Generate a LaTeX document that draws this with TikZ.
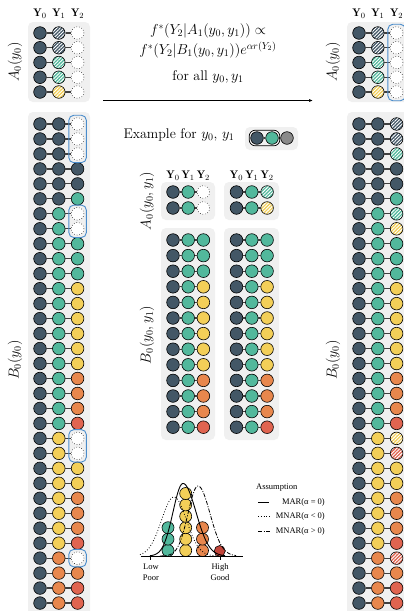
\documentclass[tikz,border=0pt]{standalone}
\usepackage{fontspec}
\newfontfamily\legfont{Liberation Serif}
\usetikzlibrary{patterns.meta,fit,arrows.meta}
\definecolor{cdark}{HTML}{435766}
\definecolor{cteal}{HTML}{52B89C}
\definecolor{cyel}{HTML}{F3CF58}
\definecolor{corg}{HTML}{E8874D}
\definecolor{cred}{HTML}{E06450}
\definecolor{cdred}{HTML}{C2453A}
\definecolor{cgex}{HTML}{8A8A8A}
\definecolor{cbox}{HTML}{F0F0F0}
\definecolor{cblue}{HTML}{4A8CCB}
\newcommand{\fmain}{\fontsize{14}{17}\selectfont}
\newcommand{\fhead}{\fontsize{11}{13}\selectfont}
\newcommand{\fleg}{\legfont\fontsize{8.5}{10}\selectfont}
\newcommand{\brow}[7]{%
  \node[#5] (#1a) at ({#2},{#4}) {};
  \node[#6] (#1b) at ({#2+#3},{#4}) {};
  \node[#7] (#1c) at ({#2+2*#3},{#4}) {};
  \draw[link] (#1a) -- (#1b) (#1b) -- (#1c);
}
\tikzset{
  ball/.style={circle, draw=black, line width=0.6pt, minimum size=12.6pt, inner sep=0pt},
  dk/.style={ball, fill=cdark},
  tl/.style={ball, fill=cteal},
  yl/.style={ball, fill=cyel},
  og/.style={ball, fill=corg},
  rd/.style={ball, fill=cred},
  gx/.style={ball, fill=cgex},
  ms/.style={ball, fill=white, draw=black, dotted, line width=0.5pt},
  hatch/.style={ball, preaction={fill=#1}, pattern={Lines[angle=45,distance=2.4pt,line width=0.9pt]}, pattern color=white},
  hdk/.style={hatch=cdark},
  htl/.style={hatch=cteal},
  hyl/.style={hatch=cyel},
  hrd/.style={hatch=cred},
  link/.style={draw=black!75, line width=1.2pt},
  panel/.style={fill=cbox, rounded corners=5pt},
  grp/.style={draw=cblue, line width=0.9pt, rounded corners=5pt, inner sep=2.2pt},
  pb/.style={circle, draw=black, line width=0.6pt, minimum size=12pt, inner sep=0pt},
  lbl/.style={font=\fmain, inner sep=0pt},
  hdr/.style={font=\fhead, inner sep=0pt},
  leg/.style={font=\fleg, inner sep=0pt},
  dotc/.style={line width=0.8pt, dash pattern=on 0.8pt off 2pt},
  dashdotc/.style={line width=0.8pt, dash pattern=on 4pt off 1.5pt on 1pt off 1.5pt},
}
\begin{document}
\begin{tikzpicture}[x=1pt,y=-1pt]
\clip (0,0) rectangle (404,611);
\fill[white] (0,0) rectangle (404,611);
% panels
\fill[panel] (28,22) rectangle (90,102);
\fill[panel] (28,112) rectangle (90,625);
\fill[panel] (347,22) rectangle (412,102);
\fill[panel] (347,112) rectangle (412,625);
\fill[panel] (161,182) rectangle (215,220);
\fill[panel] (224,182) rectangle (279,220);
\fill[panel] (161,228) rectangle (215,440);
\fill[panel] (224,228) rectangle (279,440);
% headers
\foreach \k/\x in {0/40,1/58.8,2/77.6}{\node[hdr] (hl\k) at (\x,14) {$\mathbf{Y}_\k$};}
\foreach \k/\x in {0/359,1/377.8,2/396.6}{\node[hdr] (hr\k) at (\x,14) {$\mathbf{Y}_\k$};}
\foreach \k/\x in {0/173,1/188.2,2/203.4}{\node[hdr] (hm\k) at (\x,176) {$\mathbf{Y}_\k$};}
\foreach \k/\x in {0/236.5,1/251.8,2/267.1}{\node[hdr] (hn\k) at (\x,176) {$\mathbf{Y}_\k$};}
% side labels
\node[lbl, rotate=90] (lA) at (15,62) {$A_0(y_0)$};
\node[lbl, rotate=90] (lB) at (15,360) {$B_0(y_0)$};
\node[lbl, rotate=90] (rA) at (333,62) {$A_0(y_0)$};
\node[lbl, rotate=90] (rB) at (333,360) {$B_0(y_0)$};
\node[lbl, rotate=90] (mA) at (147,201) {$A_0(y_0,y_1)$};
\node[lbl, rotate=90] (mB) at (147,335) {$B_0(y_0,y_1)$};
% left A rows
\foreach \i/\s in {1/hdk,2/hdk,3/htl,4/htl,5/hyl}{\brow{LA\i}{40}{18.8}{33+14.75*(\i-1)}{dk}{\s}{ms}}
% right A rows
\foreach \i/\s in {1/hdk,2/hdk,3/htl,4/htl,5/hyl}{\brow{RA\i}{359}{18.8}{33+14.75*(\i-1)}{dk}{\s}{ms}}
% left B rows
\foreach \i/\p/\q in {1/dk/ms,2/dk/ms,3/dk/ms,4/dk/dk,5/dk/dk,6/dk/tl,7/tl/ms,8/tl/ms,9/tl/tl,10/tl/tl,11/tl/tl,12/tl/yl,13/tl/yl,14/tl/yl,15/tl/yl,16/tl/yl,17/tl/yl,18/tl/og,19/tl/og,20/tl/og,21/tl/rd,22/yl/ms,23/yl/ms,24/yl/yl,25/yl/yl,26/yl/og,27/yl/og,28/yl/og,29/yl/rd,30/og/ms,31/og/og,32/og/rd,33/og/rd}{\brow{LB\i}{40}{18.8}{124+14.97*(\i-1)}{dk}{\p}{\q}}
% right B rows
\foreach \i/\p/\q in {1/dk/hdk,2/dk/hdk,3/dk/htl,4/dk/dk,5/dk/dk,6/dk/tl,7/tl/htl,8/tl/hyl,9/tl/tl,10/tl/tl,11/tl/tl,12/tl/yl,13/tl/yl,14/tl/yl,15/tl/yl,16/tl/yl,17/tl/yl,18/tl/og,19/tl/og,20/tl/og,21/tl/rd,22/yl/hyl,23/yl/hrd,24/yl/yl,25/yl/yl,26/yl/og,27/yl/og,28/yl/og,29/yl/rd,30/og/hrd,31/og/og,32/og/rd,33/og/rd}{\brow{RB\i}{359}{18.8}{124+14.97*(\i-1)}{dk}{\p}{\q}}
% middle A rows
\brow{MA1}{173}{15.2}{192}{dk}{tl}{ms}
\brow{MA2}{173}{15.2}{208}{dk}{tl}{ms}
\brow{NA1}{236.5}{15.3}{192}{dk}{tl}{htl}
\brow{NA2}{236.5}{15.3}{208}{dk}{tl}{hyl}
% middle B rows
\foreach \i/\q in {1/tl,2/tl,3/tl,4/yl,5/yl,6/yl,7/yl,8/yl,9/yl,10/og,11/og,12/og,13/rd}{
  \brow{MB\i}{173}{15.2}{240+15.6*(\i-1)}{dk}{tl}{\q}
  \brow{NB\i}{236.5}{15.3}{240+15.6*(\i-1)}{dk}{tl}{\q}
}
% blue groups
\node[grp, fit=(LB1c)(LB3c)] (g1) {};
\node[grp, fit=(LB7c)(LB8c)] (g2) {};
\node[grp, fit=(LB22c)(LB23c)] (g3) {};
\node[grp, fit=(LB30c)] (g4) {};
\node[grp, fit=(RA1c)(RA5c)] (g5) {};
% formula and arrow
\node[lbl] (f1) at (208,31) {$f^*(Y_2|A_1(y_0,y_1))\propto$};
\node[lbl] (f2) at (208,50) {$f^*(Y_2|B_1(y_0,y_1))e^{\alpha r(Y_2)}$};
\node[lbl] (f3) at (208,77) {for all $y_0,y_1$};
\coordinate (as) at (103,100.5);
\coordinate (ae) at (313,100.5);
\draw[line width=0.7pt, -{Latex[length=4pt,width=3pt]}] (as) -- (ae);
% example
\node[lbl] (ex) at (179,135) {Example for $y_0$, $y_1$};
\fill[panel] (245,127) rectangle (298,150);
\node[dk] (e1) at (257,138) {};
\node[tl] (e2) at (272,138) {};
\node[gx] (e3) at (287,138) {};
\draw[link] (e1) -- (e2) (e2) -- (e3);
\node[draw=black, line width=0.7pt, rounded corners=6pt, inner sep=1.2pt, fit=(e1)(e2)] (epill) {};
% density plot
\foreach \j in {1,2,3}{\node[pb, fill=cteal] (pt\j) at (168,{550.5-11.4*(\j-1)}) {};}
\foreach \j in {1,...,6}{\node[pb, fill=cyel] (py\j) at (185.7,{550.5-11.4*(\j-1)}) {};}
\foreach \j in {1,2,3}{\node[pb, fill=corg] (po\j) at (202.5,{550.5-11.4*(\j-1)}) {};}
\node[pb, fill=cdred, minimum size=11pt] (pr1) at (219.7,551) {};
\draw[line width=0.9pt] plot[domain=150:225, samples=120, smooth] (\x, {556-72.5*exp(-((\x-183)^2)/(2*(10+3*(\x>183))^2))});
\draw[dotc] plot[domain=140:220, samples=100, smooth] (\x, {556-59*exp(-((\x-174)^2)/(2*12.5^2))});
\draw[dashdotc] plot[domain=160:236, samples=100, smooth] (\x, {556-70*exp(-((\x-198)^2)/(2*(10+2*(\x>198))^2))});
\coordinate (ax0) at (141,556);
\coordinate (ax1) at (243,556);
\draw[line width=0.8pt] (ax0) -- (ax1);
\coordinate (tk1) at (150.7,556);
\coordinate (tk2) at (220.5,556);
\draw[line width=0.5pt] (tk1) -- ++(0,3.5);
\draw[line width=0.5pt] (tk2) -- ++(0,3.5);
\node[leg, align=center] (tl1) at (151,572) {Low\\[1pt]Poor};
\node[leg, align=center] (tl2) at (220,572) {High\\[1pt]Good};
% legend
\node[leg, anchor=west] (lgT) at (256,488) {Assumption};
\coordinate (l1a) at (258,502); \coordinate (l1b) at (269,502);
\coordinate (l2a) at (258,516.5); \coordinate (l2b) at (270,516.5);
\coordinate (l3a) at (258,531); \coordinate (l3b) at (270,531);
\draw[line width=0.9pt] (l1a) -- (l1b);
\draw[dotc] (l2a) -- (l2b);
\draw[dashdotc] (l3a) -- (l3b);
\node[leg, anchor=east] (lg1) at (325,502) {MAR(α = 0)};
\node[leg, anchor=east] (lg2) at (325,516.5) {MNAR(α < 0)};
\node[leg, anchor=east] (lg3) at (325,531) {MNAR(α > 0)};
\end{tikzpicture}
\end{document}
